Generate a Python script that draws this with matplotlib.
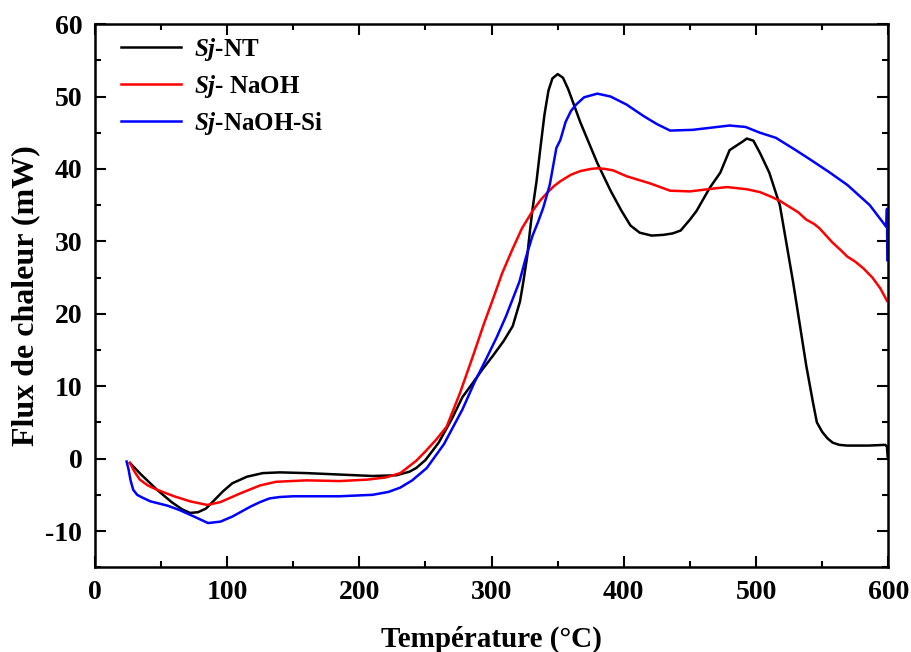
import numpy as np
import matplotlib
matplotlib.use('Agg')
from matplotlib import pyplot as plt
from matplotlib.ticker import MultipleLocator

plt.rcParams['font.family'] = 'Liberation Serif'
plt.rcParams['font.weight'] = 'bold'
plt.rcParams['axes.unicode_minus'] = False
plt.rcParams['mathtext.fontset'] = 'custom'
plt.rcParams['mathtext.it'] = 'Liberation Serif:italic:bold'
plt.rcParams['mathtext.rm'] = 'Liberation Serif:bold'

# Sj-NT
t_nt = [26.5, 35, 47, 58, 66, 72, 78, 84, 90, 97, 104, 115, 127, 140, 160, 185, 210,
        228, 238, 243, 250, 260, 270, 278, 286, 293, 301, 309, 316, 321.5, 324, 327,
        329, 331, 334, 337, 340, 343, 346, 350, 354, 358, 362, 367, 372, 380, 390,
        398, 405, 412, 421, 430, 437, 443, 450, 455, 465, 473, 480, 485, 490, 493,
        498, 503, 510, 518, 528, 538, 543, 546, 550, 554, 558, 563, 569, 585, 597.6,
        599, 599.5]
v_nt = [-0.6, -2.2, -4.3, -6.0, -7.0, -7.5, -7.4, -6.9, -5.8, -4.5, -3.4, -2.5, -2.0,
        -1.9, -2.0, -2.2, -2.4, -2.3, -1.8, -1.3, -0.2, 2.2, 5.5, 8.5, 10.5, 12.3,
        14.2, 16.2, 18.3, 21.7, 24.4, 28.0, 31.4, 34.5, 38.3, 43.0, 47.5, 50.8, 52.5,
        53.1, 52.6, 51.0, 49.0, 46.5, 44.3, 40.8, 37.0, 34.3, 32.2, 31.2, 30.8, 30.9,
        31.1, 31.5, 33.0, 34.2, 37.4, 39.5, 42.6, 43.2, 43.8, 44.2, 43.9, 42.2, 39.5,
        35.0, 24.4, 12.8, 7.8, 5.0, 3.7, 2.8, 2.2, 1.9, 1.8, 1.8, 1.9, 1.7, 0.3]

# Sj- NaOH
t_na = [26.5, 30, 34, 40, 47, 60, 72, 85, 95, 110, 125, 137, 160, 185, 206, 220,
        231, 236, 243, 250, 258, 266, 276, 286, 294, 301, 308, 316, 323, 331, 337,
        342, 347, 352, 360, 367, 375, 380, 386, 392, 402, 420, 435, 450, 468, 478,
        493, 503, 511, 518, 525, 532, 538, 544, 548, 553, 558, 564, 569, 575, 581,
        588, 594, 599]
v_na = [-0.6, -1.8, -2.9, -3.7, -4.3, -5.2, -5.9, -6.4, -6.0, -4.8, -3.7, -3.2, -3.0,
        -3.1, -2.9, -2.6, -2.0, -1.3, -0.3, 1.0, 2.6, 4.4, 9.0, 14.2, 18.5, 22.0,
        25.6, 29.0, 31.8, 34.2, 35.7, 36.7, 37.6, 38.3, 39.2, 39.7, 40.0, 40.1, 40.0,
        39.8, 39.0, 38.0, 37.0, 36.9, 37.3, 37.5, 37.2, 36.8, 36.2, 35.6, 34.8, 34.0,
        33.0, 32.4, 31.8, 30.8, 29.8, 28.8, 27.9, 27.2, 26.3, 25.0, 23.5, 21.8]

# Sj-NaOH-Si
t_si = [24, 25.5, 27, 29, 32, 35, 42, 55, 64, 75, 85.6, 95, 104, 112, 118, 125, 132,
        140, 150, 185, 210, 222, 231, 240, 251, 264, 278, 287, 296, 304, 311, 321,
        326, 331, 335, 339, 344, 349, 352, 356, 360, 364, 370, 380, 390, 402, 415,
        425, 435, 452, 466, 480, 492, 503, 515, 530, 541, 555, 569, 586, 596, 598.5,
        599, 599.3]
v_si = [-0.4, -1.5, -3.0, -4.3, -5.0, -5.3, -5.9, -6.5, -7.1, -8.0, -8.9, -8.7, -8.0,
        -7.2, -6.6, -6.0, -5.5, -5.3, -5.2, -5.2, -5.0, -4.6, -4.0, -3.0, -1.3, 2.0,
        6.8, 10.5, 13.8, 16.8, 19.7, 24.4, 27.8, 30.8, 32.6, 34.6, 37.8, 42.9, 44.0,
        46.5, 48.0, 48.9, 49.9, 50.4, 50.0, 48.9, 47.3, 46.2, 45.3, 45.4, 45.7, 46.0,
        45.8, 45.0, 44.3, 42.6, 41.3, 39.6, 37.8, 35.0, 32.6, 32.0, 34.5, 27.4]

labels = [r'$Sj$-NT', r'$Sj$- NaOH', r'$Sj$-NaOH-Si']
colors = ['black', 'red', 'blue']

fig = plt.figure(figsize=(9.12, 6.52), dpi=100)
ax = fig.add_axes([0.104, 0.130, 0.870, 0.833])

for t, v, lab, c in zip([t_nt, t_na, t_si], [v_nt, v_na, v_si], labels, colors):
    ax.plot(t, v, color=c, lw=1.8, label=lab, solid_joinstyle='round')

ax.set_xlim(0, 600)
ax.set_ylim(-15, 60)
ax.xaxis.set_major_locator(MultipleLocator(100))
ax.xaxis.set_minor_locator(MultipleLocator(50))
ax.yaxis.set_major_locator(MultipleLocator(10))
ax.yaxis.set_minor_locator(MultipleLocator(5))
ax.tick_params(which='both', direction='in', top=True, right=True, width=1.5)
ax.tick_params(which='major', length=8, labelsize=20, pad=9)
ax.tick_params(which='minor', length=4)
for s in ax.spines.values():
    s.set_linewidth(1.8)

ax.set_xlabel('Température (°C)', fontsize=21, fontweight='bold', labelpad=15)
ax.set_ylabel('Flux de chaleur (mW)', fontsize=23, fontweight='bold', labelpad=4)

leg = ax.legend(loc='upper left', frameon=False, fontsize=18, handlelength=2.4,
                bbox_to_anchor=(0.005, 1.02), labelspacing=0.4, handletextpad=0.5)

fig.savefig('out.png', dpi=100)
